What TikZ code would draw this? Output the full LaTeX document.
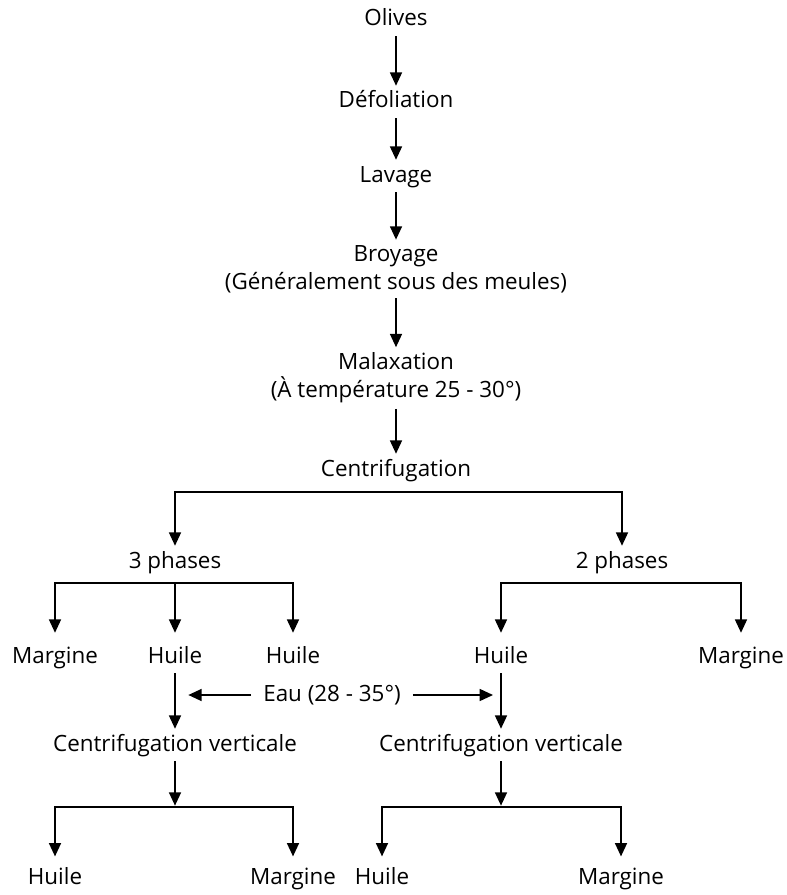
\documentclass[tikz,border=0pt]{standalone}
\usepackage{fontspec}
\setmainfont{Open Sans}
\usetikzlibrary{arrows.meta}
\tikzset{
  txt/.style={font=\fontsize{16.8}{21}\selectfont, inner xsep=2pt, align=center},
  lbl/.style={txt, text height=12pt, text depth=3pt, inner ysep=4.5pt},
  lbltwo/.style={txt, inner ysep=4pt},
  arr/.style={draw, line width=1.15pt, -{Triangle[length=10pt,width=9pt]}},
}
\begin{document}
\begin{tikzpicture}[x=0.75pt,y=-0.75pt]
\useasboundingbox (0,0) rectangle (787,895);
\node[lbl] (olives) at (396,20) {Olives};
\node[lbl] (defol) at (396,102) {Défoliation};
\node[lbl] (lavage) at (396,176) {Lavage};
\node[lbltwo] (broyage) at (396,269) {Broyage\\(Généralement sous des meules)};
\node[lbltwo] (malax) at (396,378) {Malaxation\\(À température 25 - 30°)};
\node[lbl] (centrif) at (396,470) {Centrifugation};
\node[lbl] (p3) at (175,562) {3 phases};
\node[lbl] (p2) at (622,562) {2 phases};
\node[lbl] (marg1) at (55,657) {Margine};
\node[lbl] (huile1) at (175,657) {Huile};
\node[lbl] (huile2) at (293,657) {Huile};
\node[lbl] (huile3) at (501,657) {Huile};
\node[lbl] (marg2) at (741,657) {Margine};
\node[lbl, inner xsep=9pt] (eau) at (332,695) {Eau (28 - 35°)};
\node[lbl] (cv1) at (175,745) {Centrifugation verticale};
\node[lbl] (cv2) at (501,745) {Centrifugation verticale};
\node[lbl] (hb1) at (55,878) {Huile};
\node[lbl] (mb1) at (293,878) {Margine};
\node[lbl] (hb2) at (382,878) {Huile};
\node[lbl] (mb2) at (621,878) {Margine};

\coordinate (bar1) at (396,492);
\coordinate (bar2) at (175,583);
\coordinate (bar3) at (621,583);
\coordinate (bar4) at (175,807);
\coordinate (bar5) at (501,807);

\draw[arr] (olives) -- (defol);
\draw[arr] (defol) -- (lavage);
\draw[arr] (lavage) -- (broyage);
\draw[arr] (broyage) -- (malax);
\draw[arr] (malax) -- (centrif);

\draw[arr] (bar1) -| (p3);
\draw[arr] (bar1) -| (p2);

\draw[arr, shorten >=6pt] (bar2) -| (marg1);
\draw[arr, shorten >=6pt] (bar2) -- (huile1);
\draw[arr, shorten >=6pt] (bar2) -| (huile2);
\draw[arr, shorten >=6pt] (bar3) -| (huile3);
\draw[arr, shorten >=6pt] (bar3) -| (marg2);

\draw[arr] (huile1) -- (cv1);
\draw[arr] (huile3) -- (cv2);
\draw[arr, shorten >=10pt] (eau.west) -- (eau.west -| huile1);
\draw[arr, shorten >=6pt] (eau.east) -- (eau.east -| huile3);

\draw[arr, shorten >=1pt] (cv1) -- (bar4);
\draw[arr, shorten >=1pt] (cv2) -- (bar5);
\draw[arr, shorten >=4pt] (bar4) -| (hb1);
\draw[arr, shorten >=4pt] (bar4) -| (mb1);
\draw[arr, shorten >=4pt] (bar5) -| (hb2);
\draw[arr, shorten >=4pt] (bar5) -| (mb2);
\end{tikzpicture}
\end{document}
